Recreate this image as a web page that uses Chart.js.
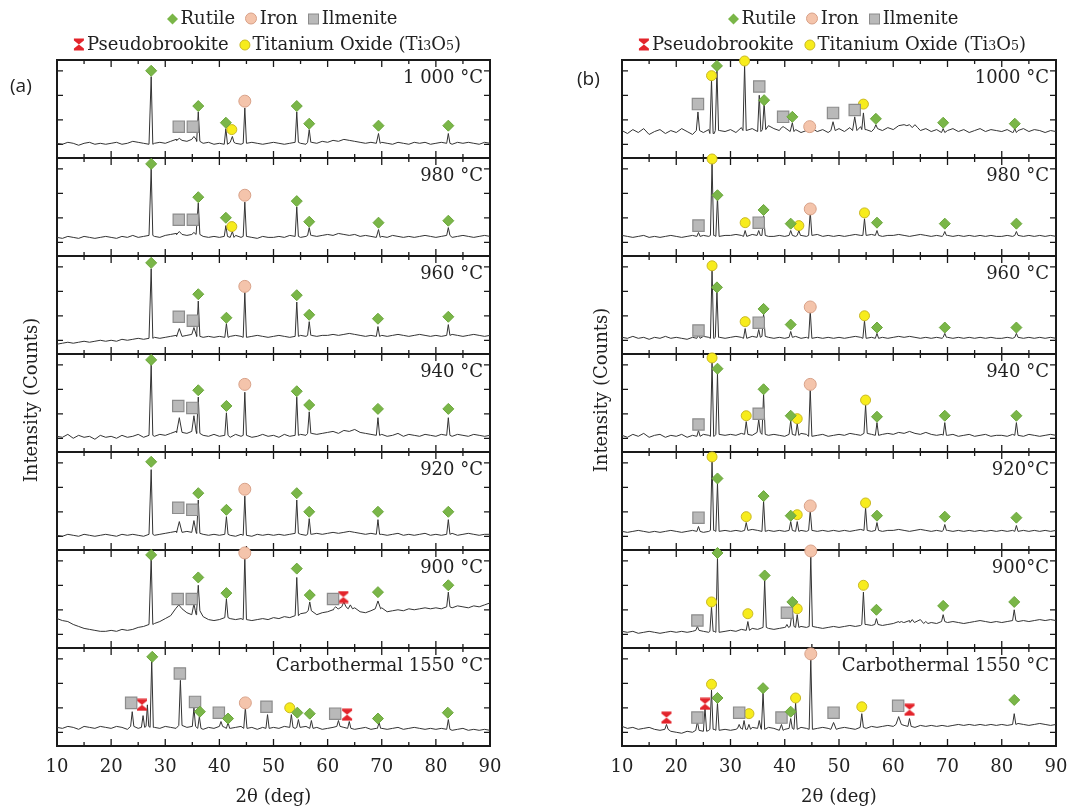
<!DOCTYPE html>
<html>
<head>
<meta charset="utf-8">
<script src="https://cdn.jsdelivr.net/npm/chart.js@4.4.1/dist/chart.umd.min.js"></script>
<style>
  body { margin: 0; background: #fff; width: 1088px; height: 809px; position: relative; overflow: hidden;
         font-family: 'DejaVu Serif', serif; color: #222; }
  .plot { position: absolute; top: 0; width: 544px; height: 809px; }
  .legend { position: absolute; white-space: nowrap; font-size: 18px; line-height: 22px; transform: translateX(-50%); }
  .legend svg { vertical-align: -1px; margin: 0 2px 0 4px; }
  .legend sub { font-size: 70%; vertical-align: 0; }
  .tag { position: absolute; font-family: 'Open Sans', sans-serif; font-size: 19px; line-height: 22px; }
  .ytitle { position: absolute; font-size: 18px; white-space: nowrap; transform: translate(-50%, -50%) rotate(-90deg); }
</style>
</head>
<body>
<div class="plot" style="left:0"><canvas id="xrdA"></canvas></div>
<div class="plot" style="left:544px"><canvas id="xrdB"></canvas></div>

<div class="legend" style="left:280px; top:7px">
  <svg width="12" height="12"><polygon points="6,0.5 11.5,6 6,11.5 0.5,6" fill="#7ab648"/></svg>Rutile
  <svg width="13" height="13"><circle cx="6.5" cy="6.5" r="5.5" fill="#f4c4ab" stroke="#d8a188"/></svg>Iron
  <svg width="12" height="12"><rect x="1" y="1" width="10" height="10" fill="#b9b9b9" stroke="#8c8c8c"/></svg>Ilmenite
</div>
<div class="legend" style="left:265px; top:33px">
  <svg width="12" height="13"><path d="M1,0.5H11V2.5L6,6.5L1,2.5Z M1,12.5H11V10.5L6,6.5L1,10.5Z" fill="#e3242b"/></svg>Pseudobrookite
  <svg width="12" height="12"><circle cx="6" cy="6" r="5" fill="#f7ec1c" stroke="#c9b825"/></svg>Titanium Oxide (Ti<sub>3</sub>O<sub>5</sub>)
</div>
<div class="legend" style="left:841px; top:7px">
  <svg width="12" height="12"><polygon points="6,0.5 11.5,6 6,11.5 0.5,6" fill="#7ab648"/></svg>Rutile
  <svg width="13" height="13"><circle cx="6.5" cy="6.5" r="5.5" fill="#f4c4ab" stroke="#d8a188"/></svg>Iron
  <svg width="12" height="12"><rect x="1" y="1" width="10" height="10" fill="#b9b9b9" stroke="#8c8c8c"/></svg>Ilmenite
</div>
<div class="legend" style="left:830px; top:33px">
  <svg width="12" height="13"><path d="M1,0.5H11V2.5L6,6.5L1,2.5Z M1,12.5H11V10.5L6,6.5L1,10.5Z" fill="#e3242b"/></svg>Pseudobrookite
  <svg width="12" height="12"><circle cx="6" cy="6" r="5" fill="#f7ec1c" stroke="#c9b825"/></svg>Titanium Oxide (Ti<sub>3</sub>O<sub>5</sub>)
</div>

<div class="tag" style="left:10px; top:74px">(a)</div>
<div class="tag" style="left:577px; top:67px">(b)</div>
<div class="ytitle" style="left:30px; top:400px">Intensity (Counts)</div>
<div class="ytitle" style="left:600px; top:390px">Intensity (Counts)</div>

<script>
// panel captions, top to bottom
const labelsA = ['1 000 °C', '980 °C', '960 °C', '940 °C', '920 °C', '900 °C', 'Carbothermal 1550 °C'];
const labelsB = ['1000 °C', '980 °C', '960 °C', '940 °C', '920°C', '900°C', 'Carbothermal 1550 °C'];

// background counts every 1° from 10 to 90 (relative units, 0-100 per panel)
const baselineA = [
  [15,14,16,15,13,15,16,14,15,14, 15,16,14,15,17,16,15,14,15,16, 15,17,19,18,17,19,17,15,16,14, 15,14,16,15,14,15,16,15,14,15,
   16,15,14,15,16,15,14,16,15,17, 16,18,17,19,18,17,16,15,16,15, 16,15,14,16,15,14,16,15,16,14, 15,16,15,14,16,15,16,15,14,16, 15],
  [19,18,20,19,18,20,19,18,19,20, 19,18,20,19,21,19,20,21,20,19, 21,22,23,22,21,22,22,20,19,20, 19,20,19,21,19,20,19,18,20,19,
   19,20,19,21,20,19,20,21,20,21, 22,21,23,22,21,22,20,21,20,19, 20,19,21,20,19,20,19,20,21,20, 19,20,21,19,20,21,20,19,20,21, 20],
  [10,11,12,11,12,13,12,13,14,13, 14,13,15,14,15,16,15,16,17,16, 17,18,19,18,19,20,18,17,18,17, 18,17,18,19,18,17,18,19,18,17,
   18,19,18,17,18,19,18,19,18,19, 19,20,19,20,21,20,19,18,19,18, 19,18,19,20,19,18,19,20,19,18, 19,18,19,20,19,18,19,20,19,18, 19],
  [16,15,18,14,17,15,16,13,17,15, 16,14,17,15,16,18,15,17,16,18, 17,19,21,20,19,21,19,17,16,18, 16,17,15,18,16,17,15,16,18,16,
   17,15,18,16,17,18,17,19,18,19, 20,21,19,22,21,23,20,19,18,17, 18,16,17,19,16,18,17,16,18,17, 16,18,17,16,18,17,16,18,17,16, 17],
  [15,14,16,15,14,16,15,14,15,16, 15,14,16,15,16,15,14,16,15,16, 17,18,19,18,19,18,17,16,15,16, 15,16,15,14,16,15,14,16,15,16,
   15,16,15,16,17,16,15,16,17,16, 17,18,17,18,19,18,17,16,17,16, 16,15,16,17,15,16,15,16,17,15, 16,15,16,17,15,16,17,16,15,16, 16],
  [30,28,27,24,22,20,19,18,17,17, 18,17,19,18,19,21,22,24,25,27, 30,33,38,40,36,34,38,32,29,28, 29,31,30,29,30,29,28,29,30,29,
   31,30,32,31,33,35,36,38,34,36, 37,39,40,42,40,41,37,36,38,40, 41,37,38,39,38,40,39,40,41,40, 41,40,42,41,43,42,41,43,42,44, 46],
  [19,18,20,19,17,20,19,18,20,19, 18,20,19,17,20,18,19,20,19,18, 20,19,18,21,19,20,18,17,19,18, 20,19,18,19,20,18,19,17,19,18,
   19,18,20,19,18,19,20,18,19,17, 18,19,20,19,18,17,18,19,17,18, 18,17,18,19,17,18,19,18,17,18, 17,18,17,16,17,18,16,17,16,17, 16]
];
const baselineB = [
  [28,25,29,26,30,24,27,29,25,28, 26,30,27,24,28,26,29,25,28,27, 29,26,31,28,30,27,29,33,30,28, 31,27,29,26,28,30,27,29,26,28,
   30,27,31,28,32,29,27,30,28,31, 29,33,30,34,31,28,30,27,29,26, 28,30,27,29,26,28,30,27,29,28, 27,29,26,28,30,27,29,28,26,28, 27],
  [21,20,19,20,21,19,20,19,20,21, 20,19,20,21,20,21,20,21,20,21, 21,22,21,20,22,21,21,20,20,21, 20,21,20,21,20,21,22,20,21,20,
   21,20,21,22,21,21,22,21,20,21, 21,22,21,20,21,22,21,20,21,20, 21,20,21,20,21,20,21,20,21,20, 20,21,20,21,20,21,20,21,20,21, 20],
  [17,16,18,16,17,15,17,16,18,16, 17,16,15,17,16,18,17,16,17,16, 17,18,17,16,18,17,18,17,16,17, 16,17,18,16,17,16,17,16,17,16,
   17,16,17,18,17,16,17,16,17,16, 17,18,17,18,17,16,17,16,17,16, 17,16,17,16,17,16,17,16,17,16, 16,17,16,17,16,17,16,17,16,17, 16],
  [17,15,18,16,19,15,17,18,15,17, 16,18,15,17,16,18,17,16,18,17, 18,17,19,18,17,20,18,17,18,17, 16,18,17,19,18,16,17,18,16,17,
   18,17,19,18,17,19,18,17,18,19, 18,20,19,21,19,18,20,18,17,18, 17,18,16,17,18,16,17,18,16,17, 17,16,18,17,16,18,17,16,17,18, 17],
  [19,18,19,20,19,18,19,18,19,20, 19,18,19,20,19,18,19,20,19,20, 19,20,19,20,21,20,19,20,19,20, 19,20,19,20,19,20,19,20,19,20,
   19,20,19,20,21,20,19,20,19,20, 20,21,20,19,20,21,20,19,20,19, 20,19,20,19,20,19,20,19,20,19, 20,19,20,19,20,19,20,19,20,19, 20],
  [17,16,17,15,16,17,16,15,16,17, 16,17,16,17,18,17,16,17,16,17, 18,17,19,18,20,19,21,20,19,20, 21,22,21,22,21,22,21,20,21,22,
   21,22,23,22,23,24,23,24,23,24, 25,27,26,28,26,29,25,26,25,27, 26,27,26,25,26,27,28,27,26,27, 26,27,28,27,28,27,28,29,28,29, 28],
  [20,18,19,17,18,19,17,16,17,15, 14,13,15,14,16,15,16,17,16,17, 16,17,18,17,19,18,17,19,18,16, 17,18,17,19,18,17,18,19,18,17,
   18,19,18,17,19,18,20,19,20,21, 20,22,21,20,19,21,20,21,20,21, 20,21,22,21,22,21,22,21,22,21, 22,21,22,23,22,21,22,23,22,21, 22]
];

// reflections: [2θ, peak height, half width (default 0.3°)]
const peaksA = [
  [[27.4,83],[32.6,20,0.5],[35.3,22,0.4],[36.1,47],[41.2,30],[42.4,22],[44.7,51],[54.3,47],[56.6,29],[69.4,25],[82.3,25]],
  [[27.4,89],[32.6,25,0.5],[35.3,24,0.4],[36.1,54],[41.2,31],[42.4,25],[44.7,55],[54.3,50],[56.6,29],[69.4,27],[82.3,29]],
  [[27.4,87],[32.6,26,0.5],[35.3,27,0.4],[36.1,54],[41.3,31],[44.7,63],[54.3,53],[56.6,33],[69.3,28],[82.3,30]],
  [[27.4,89],[32.6,35,0.5],[35.3,37,0.4],[36.1,56],[41.3,40],[44.7,61],[54.3,56],[56.6,41],[69.3,35],[82.3,35]],
  [[27.4,82],[32.6,29,0.5],[35.3,30,0.4],[36.1,51],[41.3,34],[44.7,55],[54.3,51],[56.6,32],[69.3,31],[82.3,31]],
  [[27.4,92],[32.5,44,0.6],[35.3,45,0.4],[36.1,64],[41.3,50],[44.7,94],[54.3,72],[56.7,47],[61.5,42,0.4],[63.0,47,0.4],
   [64.2,44,0.4],[69.3,48,0.5],[82.3,57]],
  [[23.9,35],[25.9,31],[26.7,42,0.25],[27.5,88],[32.8,67],[35.3,39],[36.3,30],[40.3,25],[41.6,24],[44.8,39],[48.9,32],
   [53.3,32],[54.6,27],[57.0,26],[62.0,26],[64.0,25],[69.5,24],[82.3,27]]
];
const peaksB = [
  [[24.0,47],[26.5,80],[27.5,90],[32.6,95],[35.3,64],[36.2,56],[39.7,32],[41.4,36],[48.9,37,0.4],[52.9,42,0.4],[54.5,46],
   [56.8,34],[62.5,33,0.5],[64.0,34,0.5],[69.2,30],[82.4,30]],
  [[24.1,24],[26.6,95],[27.6,60],[32.7,26],[35.2,26],[36.1,41],[41.1,26],[42.6,26],[44.7,45],[54.7,38],[57.0,26],[69.5,25],[82.7,25]],
  [[24.1,20],[26.6,86],[27.5,64],[32.7,26],[35.2,25],[36.1,41],[41.1,23],[44.7,44],[54.7,34],[57.0,21],[69.5,21],[82.7,21]],
  [[24.1,22],[26.6,92],[27.6,80],[32.9,31],[35.2,33],[36.1,59],[41.1,32],[42.3,29],[44.7,64],[54.9,48],[57.0,30],[69.5,30],[82.7,30]],
  [[24.1,24],[26.6,91],[27.6,68],[32.9,28],[36.1,50],[41.1,29],[42.3,29],[44.7,40],[54.9,43],[57.0,28],[69.5,26],[82.7,25]],
  [[23.9,22],[26.5,42],[27.6,93],[33.2,27],[36.3,69],[40.4,24],[41.4,39],[42.3,34],[44.8,94],[54.5,57],[56.9,30],
   [61.5,27,0.4],[63.5,29,0.4],[66.0,27,0.4],[69.2,34],[82.3,39]],
  [[18.2,22],[23.9,25],[25.3,39],[26.5,57],[27.6,44],[31.6,22],[32.5,26],[33.4,22],[35.3,26],[36.0,55],[39.4,22],[41.1,28],
   [42.0,44],[44.8,90],[49.0,24,0.5],[54.2,33],[61.0,30,0.5],[63.0,28],[82.3,33]]
];

// phase markers: [panel, 2θ, height]
const rutileA = [
  [0,27.4,89],[0,36.1,53],[0,41.2,36],[0,54.3,53],[0,56.6,35],[0,69.4,33],[0,82.3,33],
  [1,27.4,94],[1,36.1,60],[1,41.2,39],[1,54.3,56],[1,56.6,35],[1,69.4,34],[1,82.3,36],
  [2,27.4,93],[2,36.1,61],[2,41.3,37],[2,54.3,60],[2,56.6,40],[2,69.3,36],[2,82.3,38],
  [3,27.4,94],[3,36.1,63],[3,41.3,47],[3,54.3,62],[3,56.6,48],[3,69.3,44],[3,82.3,44],
  [4,27.4,90],[4,36.1,58],[4,41.3,41],[4,54.3,58],[4,56.6,39],[4,69.3,39],[4,82.3,39],
  [5,27.4,95],[5,36.1,72],[5,41.3,56],[5,54.3,81],[5,56.7,54],[5,69.3,57],[5,82.3,64],
  [6,27.6,91],[6,36.4,35],[6,41.6,28],[6,54.4,34],[6,56.7,33],[6,69.3,28],[6,82.2,34]
];
const ironA = [[0,44.7,58],[1,44.7,62],[2,44.7,69],[3,44.7,69],[4,44.7,62],[5,44.7,97],[6,44.8,44]];
const ilmeniteA = [
  [0,32.5,32],[0,35.1,32],[1,32.5,37],[1,35.1,37],[2,32.5,38],[2,35.1,34],[3,32.4,47],[3,35.0,45],
  [4,32.4,43],[4,35.0,41],[5,32.3,50],[5,34.9,50],[5,61.0,50],
  [6,23.7,44],[6,32.7,74],[6,35.5,45],[6,39.9,34],[6,48.7,40],[6,61.4,33]
];
const titaniumA = [[0,42.3,29],[1,42.3,30],[6,53.0,39]];
const pseudoA = [[5,62.9,52],[6,25.7,42],[6,63.6,32]];

const rutileB = [
  [0,27.5,94],[0,36.2,59],[0,41.4,42],[0,56.8,40],[0,69.2,36],[0,82.4,35],
  [1,27.6,62],[1,36.1,47],[1,41.1,33],[1,57.0,34],[1,69.5,33],[1,82.7,33],
  [2,27.5,68],[2,36.1,46],[2,41.1,30],[2,57.0,27],[2,69.5,27],[2,82.7,27],
  [3,27.6,85],[3,36.1,64],[3,41.1,37],[3,57.0,36],[3,69.5,37],[3,82.7,37],
  [4,27.6,73],[4,36.1,55],[4,41.1,35],[4,57.0,35],[4,69.5,34],[4,82.7,33],
  [5,27.6,97],[5,36.3,74],[5,41.4,47],[5,56.9,39],[5,69.2,43],[5,82.3,47],
  [6,27.6,49],[6,36.0,59],[6,41.1,35],[6,82.3,47]
];
const ironB = [[0,44.6,32],[1,44.7,48],[2,44.7,48],[3,44.7,69],[4,44.7,45],[5,44.8,99],[6,44.8,94]];
const ilmeniteB = [
  [0,24.0,55],[0,35.3,73],[0,39.7,42],[0,48.9,46],[0,52.9,49],[1,24.1,31],[1,35.2,34],[2,24.1,24],[2,35.2,32],
  [3,24.1,28],[3,35.2,39],[4,24.1,33],[5,23.9,28],[5,40.4,36],
  [6,23.9,29],[6,31.6,34],[6,39.4,29],[6,49.0,34],[6,60.9,41]
];
const titaniumB = [
  [0,26.5,84],[0,32.6,99],[0,54.5,55],[1,26.6,99],[1,32.7,34],[1,42.6,31],[1,54.7,44],
  [2,26.6,90],[2,32.7,33],[2,54.7,39],[3,26.6,96],[3,32.9,37],[3,42.3,34],[3,54.9,53],
  [4,26.6,95],[4,32.9,34],[4,42.3,36],[4,54.9,48],[5,26.5,47],[5,33.2,35],[5,42.3,40],[5,54.5,64],
  [6,26.5,63],[6,33.4,33],[6,42.0,49],[6,54.2,40]
];
const pseudoB = [[6,18.2,29],[6,25.3,43],[6,63.0,37]];

const yTickMarks = [14, 39, 64, 89];
const serif = 'DejaVu Serif';

// red hourglass symbol for pseudobrookite
function hourglass() {
  const c = document.createElement('canvas');
  c.width = 12; c.height = 13;
  const g = c.getContext('2d');
  g.fillStyle = '#e3242b';
  g.beginPath(); g.moveTo(1, 0.5); g.lineTo(11, 0.5); g.lineTo(11, 2.5); g.lineTo(6, 6.5); g.lineTo(1, 2.5); g.closePath(); g.fill();
  g.beginPath(); g.moveTo(1, 12.5); g.lineTo(11, 12.5); g.lineTo(11, 10.5); g.lineTo(6, 6.5); g.lineTo(1, 10.5); g.closePath(); g.fill();
  return c;
}

// panel p sits at offset (6 - p) * 100 on the shared y axis
function tracePoints(base, peaks, p) {
  const off = (6 - p) * 100;
  let pts = base.map((v, k) => ({ x: 10 + k, y: v }));
  peaks.forEach(([pos, top, hw = 0.3]) => {
    const b = base[Math.round(pos) - 10];
    pts = pts.filter(q => q.x < pos - hw - 1e-6 || q.x > pos + hw + 1e-6);
    pts.push({ x: pos - hw, y: b }, { x: pos, y: top }, { x: pos + hw, y: b });
  });
  pts.sort((a, b) => a.x - b.x);
  return pts.map(q => ({ x: q.x, y: q.y + off }));
}

function markerSet(label, rows, style) {
  return Object.assign({
    label, type: 'scatter', order: 1, clip: false,
    data: rows.map(([p, x, v]) => ({ x, y: v + (6 - p) * 100 }))
  }, style);
}

const framePlugin = {
  id: 'xrdFrame',
  beforeDatasetsDraw(chart) {
    const { ctx, chartArea: a, scales: { x, y } } = chart;
    ctx.save();
    ctx.strokeStyle = '#1a1a1a';
    ctx.lineWidth = 1.3;
    ctx.beginPath();
    for (let p = 0; p < 7; p++) {
      const yb = y.getPixelForValue(p * 100), yt = y.getPixelForValue(p * 100 + 100);
      yTickMarks.forEach(v => {
        const py = y.getPixelForValue(p * 100 + v);
        ctx.moveTo(a.left, py); ctx.lineTo(a.left + 6, py);
        ctx.moveTo(a.right, py); ctx.lineTo(a.right - 6, py);
      });
      for (let d = 15; d < 90; d += 5) {
        const px = x.getPixelForValue(d), len = d % 10 === 0 ? 7 : 4;
        ctx.moveTo(px, yb); ctx.lineTo(px, yb - len);
        ctx.moveTo(px, yt); ctx.lineTo(px, yt + len);
      }
    }
    ctx.stroke();
    ctx.lineWidth = 2;
    ctx.beginPath();
    for (let p = 1; p < 7; p++) {
      const py = y.getPixelForValue(p * 100);
      ctx.moveTo(a.left, py); ctx.lineTo(a.right, py);
    }
    ctx.rect(a.left, a.top, a.right - a.left, a.bottom - a.top);
    ctx.stroke();
    ctx.restore();
  },
  afterDatasetsDraw(chart, args, opts) {
    const { ctx, chartArea: a, scales: { y } } = chart;
    ctx.save();
    ctx.fillStyle = '#222';
    ctx.font = '18px "' + serif + '"';
    ctx.textAlign = 'right';
    ctx.textBaseline = 'middle';
    opts.labels.forEach((t, i) => {
      ctx.fillText(t, a.right - 7, y.getPixelForValue((7 - i) * 100) + 18);
    });
    ctx.restore();
  }
};

function makeChart(id, base, peaks, sets, labels, padLeft, padRight) {
  const traces = base.map((b, p) => ({
    type: 'line', order: 2, data: tracePoints(b, peaks[p], p),
    borderColor: '#333', borderWidth: 1, pointRadius: 0, tension: 0
  }));
  return new Chart(document.getElementById(id), {
    type: 'scatter',
    data: {
      datasets: [
        markerSet('Rutile', sets[0], { pointStyle: 'rectRot', pointRadius: 5.5, backgroundColor: '#7ab648', borderColor: '#6aa63a', borderWidth: 1 }),
        markerSet('Iron', sets[1], { pointStyle: 'circle', pointRadius: 6, backgroundColor: '#f4c4ab', borderColor: '#d8a188', borderWidth: 1 }),
        markerSet('Ilmenite', sets[2], { pointStyle: 'rect', pointRadius: 8, backgroundColor: '#b9b9b9', borderColor: '#8c8c8c', borderWidth: 1.2 }),
        markerSet('Titanium Oxide (Ti3O5)', sets[3], { pointStyle: 'circle', pointRadius: 5, backgroundColor: '#f7ec1c', borderColor: '#c9b825', borderWidth: 1 }),
        markerSet('Pseudobrookite', sets[4], { pointStyle: hourglass(), pointRadius: 6 }),
        ...traces
      ]
    },
    options: {
      responsive: true,
      maintainAspectRatio: false,
      animation: false,
      layout: { padding: { left: padLeft, right: padRight, top: 60, bottom: 0 } },
      plugins: {
        legend: { display: false },
        tooltip: { enabled: false },
        xrdFrame: { labels }
      },
      scales: {
        x: {
          type: 'linear', min: 10, max: 90,
          grid: { display: false, drawTicks: false },
          border: { display: false },
          ticks: { stepSize: 10, padding: 11, color: '#222', font: { family: serif, size: 18 } },
          title: { display: true, text: '2θ (deg)', color: '#222', padding: { top: 0, bottom: 1 }, font: { family: serif, size: 18 } },
          afterFit: s => { s.height = 63; }
        },
        y: { display: false, min: 0, max: 700 }
      }
    },
    plugins: [framePlugin]
  });
}

makeChart('xrdA', baselineA, peaksA, [rutileA, ironA, ilmeniteA, titaniumA, pseudoA], labelsA, 57, 54);
makeChart('xrdB', baselineB, peaksB, [rutileB, ironB, ilmeniteB, titaniumB, pseudoB], labelsB, 78, 32);
</script>
</body>
</html>
